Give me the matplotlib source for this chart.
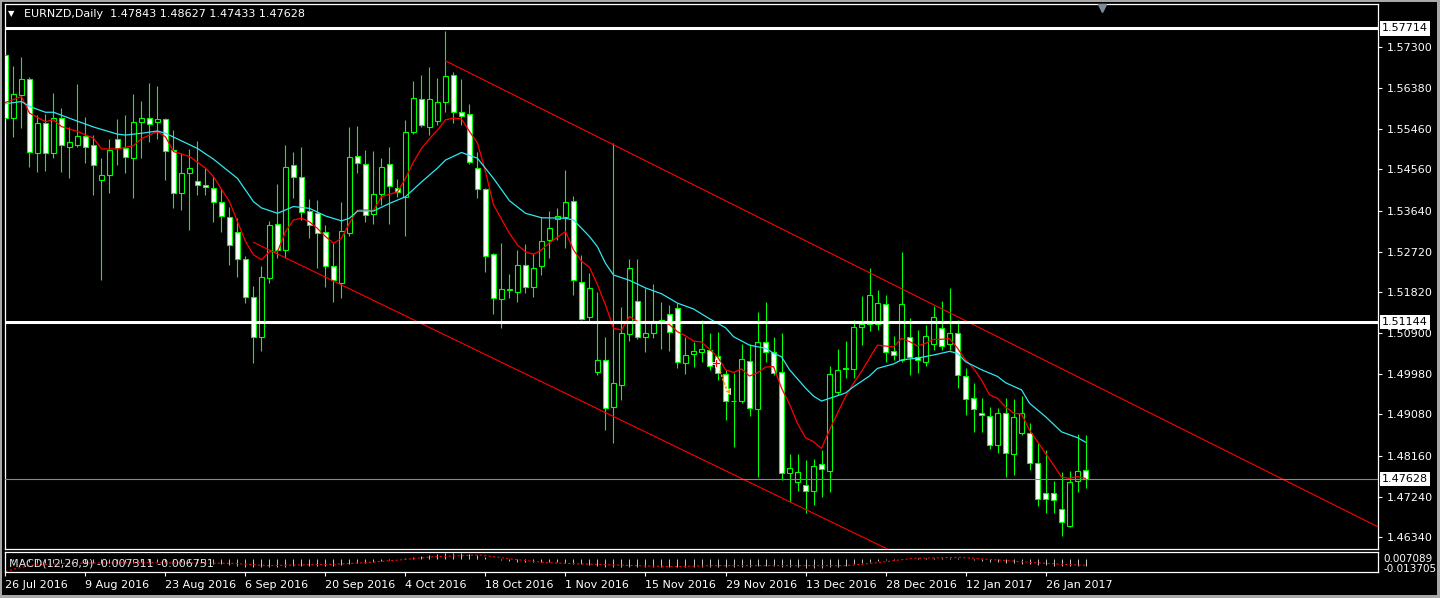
# -*- coding: utf-8 -*-
''' EURNZD daily chart with channel, levels and MACD, MT4 style. '''

import numpy as np
import matplotlib.pyplot as plt
from matplotlib.patches import Rectangle
import matplotlib.transforms as mtransforms

plt.rcParams['font.family'] = ['DejaVu Sans']

###############################################################################
# data
###############################################################################
header = 'EURNZD,Daily  1.47843 1.48627 1.47433 1.47628'
macd_header = 'MACD(12,26,9) -0.007311 -0.006751'

date_labels = ['26 Jul 2016', '9 Aug 2016', '23 Aug 2016', '6 Sep 2016',
               '20 Sep 2016', '4 Oct 2016', '18 Oct 2016', '1 Nov 2016',
               '15 Nov 2016', '29 Nov 2016', '13 Dec 2016', '28 Dec 2016',
               '12 Jan 2017', '26 Jan 2017']
date_bars = [0, 10, 20, 30, 40, 50, 60, 70, 80, 90, 100, 110, 120, 130]

price_ticks = [1.57300, 1.56380, 1.55460, 1.54560, 1.53640, 1.52720, 1.51820,
               1.50900, 1.49980, 1.49080, 1.48160, 1.47240, 1.46340]

opens = [1.5712, 1.5571, 1.5623, 1.5658, 1.5492, 1.5559, 1.5492, 1.5571, 1.5507, 1.5511,
         1.5531, 1.5511, 1.5433, 1.5444, 1.5524, 1.5503, 1.5481, 1.5562, 1.5571, 1.5563,
         1.5568, 1.5500, 1.5403, 1.5448, 1.5430, 1.5421, 1.5414, 1.5383, 1.5349, 1.5317,
         1.5255, 1.5170, 1.5081, 1.5213, 1.5334, 1.5276, 1.5466, 1.5439, 1.5362, 1.5358,
         1.5316, 1.5239, 1.5201, 1.5313, 1.5487, 1.5468, 1.5356, 1.5401, 1.5468, 1.5415,
         1.5395, 1.5539, 1.5613, 1.5552, 1.5565, 1.5608, 1.5667, 1.5584, 1.5580, 1.5460,
         1.5412, 1.5266, 1.5166, 1.5186, 1.5183, 1.5242, 1.5194, 1.5239, 1.5298, 1.5346,
         1.5349, 1.5386, 1.5205, 1.5127, 1.5004, 1.5030, 1.4925, 1.4974, 1.5087, 1.5162,
         1.5081, 1.5090, 1.5116, 1.5133, 1.5145, 1.5022, 1.5043, 1.5048, 1.5052, 1.5039,
         1.4998, 1.4939, 1.4939, 1.5028, 1.4920, 1.5071, 1.5047, 1.5002, 1.4776, 1.4756,
         1.4750, 1.4737, 1.4797, 1.4782, 1.4959, 1.5009, 1.5009, 1.5104, 1.5110, 1.5110,
         1.5154, 1.5050, 1.5030, 1.5082, 1.5036, 1.5025, 1.5066, 1.5102, 1.5066, 1.5091,
         1.4994, 1.4944, 1.4911, 1.4905, 1.4839, 1.4911, 1.4819, 1.4867, 1.4866, 1.4799,
         1.4733, 1.4732, 1.4696, 1.4659, 1.4759, 1.47843]
highs = [1.5731, 1.5688, 1.5707, 1.5662, 1.5578, 1.5580, 1.5626, 1.5593, 1.5552, 1.5647,
         1.5574, 1.5533, 1.5481, 1.5525, 1.5568, 1.5578, 1.5624, 1.5609, 1.5649, 1.5643,
         1.5572, 1.5544, 1.5492, 1.5502, 1.5520, 1.5459, 1.5440, 1.5414, 1.5373, 1.5347,
         1.5263, 1.5195, 1.5241, 1.5341, 1.5423, 1.5511, 1.5496, 1.5506, 1.5390, 1.5388,
         1.5332, 1.5291, 1.5384, 1.5552, 1.5553, 1.5500, 1.5498, 1.5482, 1.5506, 1.5435,
         1.5567, 1.5654, 1.5667, 1.5685, 1.5660, 1.5766, 1.5673, 1.5658, 1.5602, 1.5496,
         1.5415, 1.5269, 1.5291, 1.5222, 1.5276, 1.5289, 1.5269, 1.5350, 1.5363, 1.5369,
         1.5455, 1.5397, 1.5265, 1.5224, 1.5183, 1.5082, 1.5515, 1.5149, 1.5256, 1.5256,
         1.5190, 1.5200, 1.5159, 1.5153, 1.5157, 1.5082, 1.5071, 1.5119, 1.5090, 1.5092,
         1.5008, 1.5000, 1.5066, 1.5066, 1.5137, 1.5160, 1.5082, 1.5090, 1.4820, 1.4820,
         1.4805, 1.4808, 1.4829, 1.5016, 1.5054, 1.5072, 1.5119, 1.5173, 1.5235, 1.5186,
         1.5175, 1.5084, 1.5271, 1.5123, 1.5097, 1.5108, 1.5151, 1.5162, 1.5190, 1.5119,
         1.5011, 1.4978, 1.4944, 1.4925, 1.4922, 1.4944, 1.4942, 1.4949, 1.4888, 1.4844,
         1.4829, 1.4758, 1.4780, 1.4782, 1.4864, 1.48627]
lows = [1.5533, 1.5529, 1.5548, 1.5462, 1.5451, 1.5453, 1.5481, 1.5451, 1.5436, 1.5507,
        1.5470, 1.5399, 1.5209, 1.5403, 1.5466, 1.5448, 1.5393, 1.5481, 1.5518, 1.5525,
        1.5433, 1.5369, 1.5365, 1.5321, 1.5399, 1.5399, 1.5338, 1.5317, 1.5242, 1.5216,
        1.5157, 1.5024, 1.5051, 1.5201, 1.5257, 1.5257, 1.5392, 1.5343, 1.5302, 1.5235,
        1.5193, 1.5160, 1.5168, 1.5307, 1.5448, 1.5338, 1.5333, 1.5377, 1.5333, 1.5395,
        1.5308, 1.5535, 1.5550, 1.5533, 1.5556, 1.5584, 1.5559, 1.5556, 1.5468, 1.5393,
        1.5227, 1.5132, 1.5101, 1.5169, 1.5160, 1.5179, 1.5171, 1.5220, 1.5257, 1.5298,
        1.5280, 1.5175, 1.5119, 1.5116, 1.4996, 1.4873, 1.4844, 1.4940, 1.5072, 1.5076,
        1.5048, 1.5078, 1.5054, 1.5051, 1.5011, 1.4999, 1.5015, 1.5026, 1.5008, 1.4985,
        1.4896, 1.4836, 1.4933, 1.4905, 1.4768, 1.5026, 1.4996, 1.4761, 1.4713, 1.4737,
        1.4687, 1.4706, 1.4724, 1.4735, 1.4952, 1.4990, 1.4989, 1.5063, 1.5095, 1.5097,
        1.5026, 1.5030, 1.5025, 1.4996, 1.5000, 1.5016, 1.5052, 1.5052, 1.5052, 1.4967,
        1.4907, 1.4869, 1.4869, 1.4830, 1.4821, 1.4768, 1.4773, 1.4862, 1.4783, 1.4703,
        1.4688, 1.4688, 1.4635, 1.4656, 1.4735, 1.47433]
closes = [1.5571, 1.5624, 1.5658, 1.5495, 1.5559, 1.5492, 1.5571, 1.5511, 1.5517, 1.5531,
          1.5507, 1.5466, 1.5444, 1.5500, 1.5505, 1.5485, 1.5562, 1.5571, 1.5557, 1.5568,
          1.5498, 1.5403, 1.5448, 1.5459, 1.5421, 1.5416, 1.5383, 1.5353, 1.5287, 1.5255,
          1.5170, 1.5081, 1.5215, 1.5332, 1.5276, 1.5462, 1.5439, 1.5360, 1.5332, 1.5313,
          1.5239, 1.5209, 1.5319, 1.5483, 1.5470, 1.5354, 1.5401, 1.5462, 1.5418, 1.5405,
          1.5539, 1.5615, 1.5556, 1.5613, 1.5608, 1.5664, 1.5584, 1.5576, 1.5472, 1.5412,
          1.5263, 1.5168, 1.5188, 1.5189, 1.5242, 1.5193, 1.5236, 1.5295, 1.5324, 1.5351,
          1.5383, 1.5209, 1.5121, 1.5190, 1.5030, 1.4922, 1.4978, 1.5090, 1.5236, 1.5081,
          1.5090, 1.5118, 1.5119, 1.5092, 1.5025, 1.5041, 1.5050, 1.5054, 1.5017, 1.5000,
          1.4937, 1.4938, 1.5031, 1.4922, 1.5071, 1.5047, 1.5000, 1.4776, 1.4789, 1.4780,
          1.4737, 1.4793, 1.4785, 1.4998, 1.5008, 1.5013, 1.5103, 1.5110, 1.5175, 1.5157,
          1.5048, 1.5041, 1.5154, 1.5036, 1.5030, 1.5084, 1.5127, 1.5062, 1.5090, 1.4996,
          1.4943, 1.4920, 1.4907, 1.4840, 1.4911, 1.4821, 1.4902, 1.4911, 1.4799, 1.4719,
          1.4719, 1.4716, 1.4667, 1.4756, 1.4782, 1.47628]

# fast (red) moving average, read at these bars
fast_bars = [0, 2, 3, 5, 6, 7, 9, 11, 12, 14, 16, 17, 19, 20, 21, 23, 25, 26, 28, 29,
             30, 31, 32, 33, 34, 35, 36, 37, 38, 39, 40, 41, 42, 43, 44, 46, 47, 49, 50, 51,
             52, 53, 54, 55, 56, 57, 58, 59, 60, 61, 63, 64, 65, 66, 67, 68, 70, 71, 72, 73,
             74, 75, 76, 77, 78, 79, 80, 82, 83, 84, 85, 86, 87, 88, 89, 90, 91, 92, 93, 94,
             95, 96, 97, 98, 99, 100, 101, 102, 103, 104, 105, 106, 107, 108, 109, 110, 111,
             112, 113, 114, 115, 116, 117, 118, 119, 120, 121, 122, 123, 124, 125, 126, 127,
             128, 129, 130, 131, 132, 133, 134, 135]
fast_ma = [1.5606, 1.5619, 1.5582, 1.5563, 1.5567, 1.5552, 1.5541, 1.5526, 1.5502, 1.5502,
           1.5509, 1.5525, 1.5541, 1.5529, 1.5496, 1.5485, 1.5459, 1.5440, 1.5384, 1.5339,
           1.5295, 1.5265, 1.5254, 1.5272, 1.5272, 1.5317, 1.5343, 1.5347, 1.5339, 1.5324,
           1.5306, 1.5291, 1.5302, 1.5336, 1.5365, 1.5365, 1.5395, 1.5406, 1.5436, 1.5473,
           1.5503, 1.5525, 1.5544, 1.5567, 1.5571, 1.5569, 1.5541, 1.5515, 1.5451, 1.5377,
           1.5313, 1.5287, 1.5272, 1.5266, 1.5276, 1.5292, 1.5317, 1.5276, 1.5251, 1.5237,
           1.5198, 1.5153, 1.5101, 1.5097, 1.5127, 1.5116, 1.5116, 1.5115, 1.5109, 1.5093,
           1.5084, 1.5072, 1.5070, 1.5054, 1.5037, 1.5008, 1.5002, 1.5010, 1.4994, 1.5001,
           1.5014, 1.5015, 1.4967, 1.4931, 1.4888, 1.4856, 1.4847, 1.4832, 1.4873, 1.4911,
           1.4948, 1.4978, 1.5004, 1.5034, 1.5063, 1.5061, 1.5059, 1.5078, 1.5071, 1.5061,
           1.5067, 1.5076, 1.5076, 1.5078, 1.5056, 1.5030, 1.5011, 1.4985, 1.4952, 1.4944,
           1.4925, 1.4911, 1.4909, 1.4873, 1.4847, 1.4821, 1.4795, 1.4768, 1.4765, 1.4769,
           1.4765]

# slow (cyan) moving average, read at these bars
slow_bars = [0, 2, 3, 5, 6, 9, 11, 14, 15, 17, 19, 20, 22, 24, 26, 29, 31, 32, 34, 36,
             38, 40, 42, 43, 44, 46, 48, 50, 52, 54, 55, 57, 59, 61, 63, 65, 67, 70, 71, 73,
             74, 75, 76, 78, 80, 82, 84, 86, 88, 90, 91, 93, 95, 96, 97, 98, 100, 101, 102,
             103, 105, 106, 108, 109, 111, 112, 114, 116, 117, 118, 119, 120, 122, 124, 125,
             127, 128, 130, 132, 134, 135]
slow_ma = [1.5603, 1.5608, 1.5597, 1.5584, 1.5584, 1.5564, 1.5551, 1.5535, 1.5533, 1.5537,
           1.5542, 1.5537, 1.5520, 1.5503, 1.5479, 1.5436, 1.5384, 1.5370, 1.5358, 1.5373,
           1.5369, 1.5352, 1.5341, 1.5347, 1.5363, 1.5363, 1.5380, 1.5395, 1.5428, 1.5459,
           1.5477, 1.5494, 1.5481, 1.5436, 1.5386, 1.5358, 1.5348, 1.5347, 1.5343, 1.5306,
           1.5283, 1.5246, 1.5220, 1.5208, 1.5191, 1.5178, 1.5157, 1.5144, 1.5122, 1.5102,
           1.5082, 1.5063, 1.5056, 1.5045, 1.5037, 1.5008, 1.4967, 1.4949, 1.4938, 1.4944,
           1.4956, 1.4970, 1.4994, 1.5011, 1.5021, 1.5030, 1.5034, 1.5041, 1.5045, 1.5049,
           1.5045, 1.5026, 1.5008, 1.4993, 1.4979, 1.4963, 1.4933, 1.4903, 1.4869, 1.4856,
           1.4846]

# horizontal levels and the bid line
levels = [1.57714, 1.51144]
bid = 1.47628

# descending channel, two anchor points each (bar, price)
upper_bars = [55, 160]
upper_prices = [1.5699, 1.4760]
lower_bars = [31, 110]
lower_prices = [1.5293, 1.4609]

# trade marks near 21-23 Nov: entry cross, dotted link, exit arrow (bar, price)
trade_bars = [88.8, 89.3, 90.2]
trade_prices = [1.5024, 1.5006, 1.4961]

# MACD main values (histogram) and signal line
macd_main = [-0.0010, -0.0020, -0.0030, -0.0035, -0.0040,
             -0.0040, -0.0040, -0.0040, -0.0040, -0.0040, -0.0040, -0.0040, -0.0040,
             -0.0040, -0.0040, -0.0040,
             -0.0040, -0.0035, -0.0030, -0.0030, -0.0030, -0.0030, -0.0030, -0.0035, -0.0040, -0.0045,
             -0.0050, -0.0055, -0.0060, -0.0070, -0.0080, -0.0090, -0.0090, -0.0090, -0.0090, -0.0080,
             -0.0075, -0.0075, -0.0075, -0.0075, -0.0075, -0.0070, -0.0065, -0.0055, -0.0045, -0.0040,
             -0.0030, -0.0020, -0.0010, 0.0000, 0.0010, 0.0020, 0.0030, 0.0040, 0.0050, 0.0060,
             0.0060, 0.0060, 0.0050, 0.0040, 0.0020, 0.0000, -0.0010, -0.0020, -0.0030, -0.0030,
             -0.0030, -0.0030, -0.0035, -0.0035, -0.0040, -0.0050, -0.0055, -0.0060, -0.0070, -0.0080,
             -0.0080, -0.0080, -0.0080, -0.0080, -0.0080, -0.0080, -0.0080, -0.0080, -0.0080, -0.0080,
             -0.0080, -0.0080, -0.0080, -0.0080, -0.0080, -0.0080, -0.0080, -0.0080, -0.0070, -0.0070,
             -0.0070, -0.0080, -0.0085, -0.0090, -0.0095, -0.0100, -0.0100, -0.0090, -0.0080, -0.0070,
             -0.0055, -0.0040, -0.0030, -0.0020, -0.0015, -0.0010, -0.0005, 0.0000, 0.0005, 0.0010,
             0.0010, 0.0010, 0.0010, 0.0005, 0.0000, -0.0010, -0.0020, -0.0030, -0.0035, -0.0040,
             -0.0045, -0.0050, -0.0055, -0.0060, -0.0065, -0.0070, -0.0075, -0.0075, -0.0073, -0.007311]
signal_bars = [0, 1.4, 3.5, 7.6, 16, 28.5, 32.6, 41, 45, 49.3, 53.5, 59.3, 63.5, 67.6,
               76, 83.5, 88.5, 101, 105, 108.4, 113.4, 119.3, 124, 128, 132, 135]
signal_vals = [-0.0134, -0.0099, -0.0064, -0.0047, -0.0040, -0.0047, -0.0071, -0.0057,
               -0.0040, -0.0012, 0.0022, 0.0040, -0.0005, -0.0040, -0.0064, -0.0082,
               -0.0071, -0.0071, -0.0071, -0.0047, 0.0005, 0.0015, -0.0012, -0.0036,
               -0.0057, -0.006751]
macd_top = 0.007089
macd_bottom = -0.013705

###############################################################################
# plot
###############################################################################
GREEN = '#00ff00'
W, H = 1440.0, 598.0


def fig_rect(x0, y0, x1, y1):
    # pixel box -> figure fraction [left, bottom, width, height]
    return [x0 / W, 1 - y1 / H, (x1 - x0) / W, (y1 - y0) / H]


fig = plt.figure(figsize=(14.4, 5.98), dpi=100, facecolor='black')

ax = fig.add_axes(fig_rect(5, 4, 1378, 549))
ax.set_facecolor('black')
ax.set_xlim(-0.06, 171.56)
ax.set_ylim(1.460699, 1.582615)
for s in ax.spines.values():
    s.set_color('white')
    s.set_linewidth(0.9)

n = len(opens)
bars = np.arange(n)
ax.vlines(bars, lows, highs, color=GREEN, lw=0.8, zorder=2)
for i in range(n):
    o, c = opens[i], closes[i]
    face = 'white' if c < o else 'black'
    hgt = max(abs(c - o), 0.00006)
    ax.add_patch(Rectangle((i - 0.27, min(o, c)), 0.54, hgt, facecolor=face,
                           edgecolor=GREEN, lw=0.8, zorder=3))

ax.plot(fast_bars, fast_ma, color='#ff0000', lw=0.9, zorder=4)
ax.plot(slow_bars, slow_ma, color='#2ee8f2', lw=0.9, zorder=4)

# channel lines, extended to the right edge
up_slope = (upper_prices[1] - upper_prices[0]) / (upper_bars[1] - upper_bars[0])
ax.plot([upper_bars[0], 172], [upper_prices[0], upper_prices[0] + up_slope * (172 - upper_bars[0])],
        color='#ff0000', lw=0.8, zorder=4)
lo_slope = (lower_prices[1] - lower_prices[0]) / (lower_bars[1] - lower_bars[0])
ax.plot([lower_bars[0], 172], [lower_prices[0], lower_prices[0] + lo_slope * (172 - lower_bars[0])],
        color='#ff0000', lw=0.8, zorder=4)

# trade marks
ax.plot(trade_bars[1:], trade_prices[1:], color='#ff9900', lw=1.2, ls=(0, (1.5, 1)), zorder=7)
ax.plot(trade_bars[0], trade_prices[0], marker='P', ms=6, color='#ff0000',
        markeredgecolor='white', markeredgewidth=0.6, zorder=8)
ax.plot(trade_bars[2], trade_prices[2], marker='<', ms=5, color='#ff9900',
        markeredgecolor='white', markeredgewidth=0.6, zorder=8)

for lv in levels:
    ax.axhline(lv, color='white', lw=2.2, zorder=6)
ax.axhline(bid, color='#7d8b99', lw=0.8, zorder=5)

ax.set_xticks([])
ax.yaxis.tick_right()
ax.set_yticks(price_ticks)
ax.set_yticklabels(['%.5f' % p for p in price_ticks])
ax.tick_params(axis='y', colors='white', direction='out', length=3, width=0.8,
               pad=3, labelsize=8)

trans = mtransforms.blended_transform_factory(ax.transAxes, ax.transData)
for lv in levels + [bid]:
    ax.text(1.003, lv, '%.5f' % lv, transform=trans, color='black', fontsize=8,
            va='center', ha='left', zorder=20, clip_on=False,
            bbox=dict(facecolor='white', edgecolor='none', pad=1.5))

# chart shift marker
ax.plot([137], [1.5818], marker='v', ms=6, color='#7d8b99', zorder=7, clip_on=False)

ax.text(19 / 1373, 1 - 10 / 545, header, transform=ax.transAxes, color='white',
        fontsize=8, va='center', ha='left', zorder=10)
ax.text(3 / 1373, 1 - 10 / 545, '\u25BC', transform=ax.transAxes, color='white',
        fontsize=6, va='center', ha='left', zorder=10)

# MACD sub window
ax2 = fig.add_axes(fig_rect(5, 552, 1378, 572))
ax2.set_facecolor('black')
ax2.set_xlim(-0.06, 171.56)
ax2.set_ylim(macd_bottom, macd_top)
for s in ax2.spines.values():
    s.set_color('white')
    s.set_linewidth(0.9)
ax2.vlines(bars, 0, macd_main, color='#c8c8c8', lw=0.7)
ax2.plot(signal_bars, signal_vals, color='#ff0000', lw=0.8, ls=(0, (2, 2)))
ax2.set_yticks([])
ax2.set_xticks(date_bars)
ax2.set_xticklabels(date_labels)
ax2.tick_params(axis='x', colors='white', direction='out', length=3, width=0.8,
                pad=3, labelsize=8)
for lab in ax2.get_xticklabels():
    lab.set_horizontalalignment('left')
ax2.text(0.003, 0.45, macd_header, transform=ax2.transAxes, color='#e0e0e0',
         fontsize=8, va='center', ha='left')
fig.text(1383 / W, 1 - 558.5 / H, '%.6f' % macd_top, color='white', fontsize=7.5, va='center')
fig.text(1383 / W, 1 - 568.5 / H, '%.6f' % macd_bottom, color='white', fontsize=7.5, va='center')

# window frame
for r in [(0, 0, 1440, 2), (0, 0, 2, 598), (0, 595, 1440, 598), (1437, 0, 1440, 598)]:
    fig.add_artist(Rectangle((r[0] / W, 1 - r[3] / H), (r[2] - r[0]) / W, (r[3] - r[1]) / H,
                             transform=fig.transFigure, facecolor='#a8a8a8', edgecolor='none'))

fig.savefig('out.png', dpi=100, facecolor='black')
